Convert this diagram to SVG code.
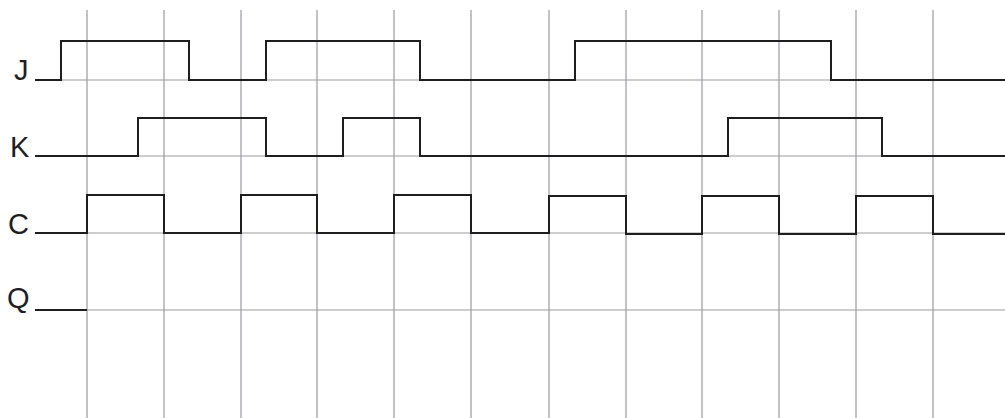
<svg xmlns="http://www.w3.org/2000/svg" width="1005" height="418" viewBox="0 0 1005 418">
<style>
.grid{stroke:#9a9aa4;stroke-width:1.2;fill:none}
.sig{stroke:#1e1e1e;stroke-width:2;fill:none;stroke-linejoin:miter}
.lbl{font-family:"Liberation Sans",Arial,sans-serif;fill:#1e1e1e;font-size:29px}
</style>
<rect width="1005" height="418" fill="#ffffff"/>
<g id="grid">
<path class="grid" d="M87 10V418M164 10V418M241 10V418M317 10V418M394 10V418M471 10V418M549 10V418M626 10V418M702 10V418M779 10V418M856 10V418M933 10V418"/>
<path class="grid" d="M35 80H1005M35 156H1005M35 233H1005M35 310H1005"/>
</g>
<g id="labels">
<text class="lbl" x="14" y="80">J</text>
<text class="lbl" x="10" y="157">K</text>
<text class="lbl" x="8" y="234">C</text>
<text class="lbl" x="7" y="308">Q</text>
</g>
<g id="signal-J">
<path class="sig" d="M35 80H61V41H189V80H266V41H420V80H575V41H831V80H1005"/>
</g>
<g id="signal-K">
<path class="sig" d="M35 156H138V118H266V156H343V118H420V156H728V118H882V156H1005"/>
</g>
<g id="signal-C">
<path class="sig" d="M35 233H87V195H164V233H241V195H317V233H394V195H471V233H549V196H626V234H702V196H779V234H856V196H933V234H1005"/>
</g>
<g id="signal-Q">
<path class="sig" d="M35 310H87"/>
</g>
</svg>
